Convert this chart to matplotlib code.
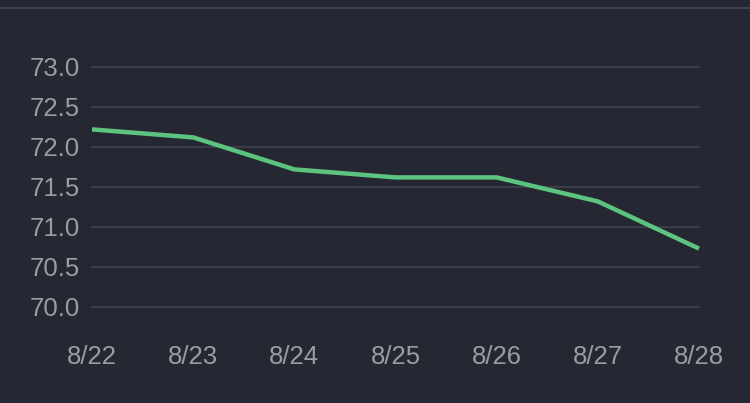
import matplotlib.pyplot as plt
from matplotlib.lines import Line2D

dates = ["8/22", "8/23", "8/24", "8/25", "8/26", "8/27", "8/28"]
values = [72.22, 72.12, 71.72, 71.62, 71.62, 71.32, 70.73]
yticks = [70.0, 70.5, 71.0, 71.5, 72.0, 72.5, 73.0]

bg = "#252833"
fig = plt.figure(figsize=(7.5, 4.03), dpi=100, facecolor=bg)
W, H = 750, 403
ax = fig.add_axes([92 / W, (H - 307) / H, 607 / W, 240 / H])
ax.set_facecolor(bg)

x = list(range(len(dates)))
ax.plot(x, values, color="#5cc47e", linewidth=3.2, solid_joinstyle="round",
        solid_capstyle="butt", zorder=5, clip_on=False)

ax.set_xlim(0, len(dates) - 1)
ax.set_ylim(70.0, 73.0)
ax.set_yticks(yticks)
ax.set_yticklabels([f"{v:.1f}" for v in yticks])
ax.set_xticks(x)
ax.set_xticklabels(dates)

for v in yticks:
    ax.axhline(v, color="#3b3e48", linewidth=1.5, zorder=1, clip_on=False)

for spine in ax.spines.values():
    spine.set_visible(False)
ax.tick_params(axis="both", length=0, colors="#9b9ca1", labelsize=18.5)
ax.tick_params(axis="y", pad=9)
ax.tick_params(axis="x", pad=27)
for lab in ax.get_xticklabels() + ax.get_yticklabels():
    lab.set_fontfamily("Liberation Sans")

fig.add_artist(Line2D([0, 1], [(H - 7.5) / H, (H - 7.5) / H],
                      color="#40434d", linewidth=1.5, transform=fig.transFigure))

fig.savefig("out.png", dpi=100, facecolor=bg)
